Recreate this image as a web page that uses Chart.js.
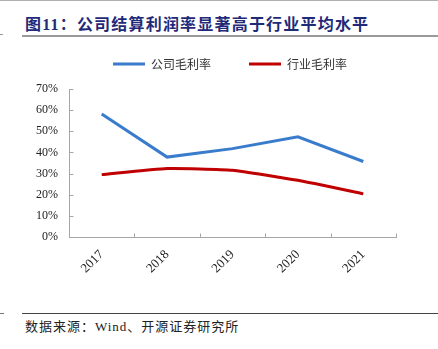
<!DOCTYPE html>
<html>
<head>
<meta charset="utf-8">
<script src="https://cdn.jsdelivr.net/npm/chart.js@4/dist/chart.umd.min.js"></script>
<style>
  html, body { margin: 0; padding: 0; background: #fff; }
  body { width: 438px; height: 349px; position: relative; overflow: hidden; }
  #topline { position: absolute; left: 0; top: 0; width: 438px; height: 1px; background: #b0b0b0; }
  #title { position: absolute; left: 25px; top: 15px; font-family: "Liberation Serif", "Noto Sans CJK SC", serif; font-weight: bold; font-size: 16px; color: #1f2a78; letter-spacing: 1.2px; white-space: nowrap; line-height: 20px; }
  #titleline { position: absolute; left: 22px; top: 35px; width: 416px; height: 2px; background: #999; }
  #mark1 { position: absolute; left: 0; top: 34px; width: 3px; height: 1px; background: #999; }
  #botline { position: absolute; left: 22px; top: 313px; width: 416px; height: 1px; background: #444; }
  #mark2 { position: absolute; left: 0; top: 313px; width: 4px; height: 1px; background: #777; }
  #source { position: absolute; left: 25px; top: 318px; font-family: "Liberation Serif", "Noto Sans CJK SC", serif; font-size: 13px; color: #222; letter-spacing: 1px; white-space: nowrap; line-height: 18px; }
  #wrap { position: absolute; left: 0; top: 20px; width: 438px; height: 280px; }
</style>
</head>
<body>
<div id="topline"></div>
<div id="title">图11：公司结算利润率显著高于行业平均水平</div>
<div id="titleline"></div>
<div id="mark1"></div>
<div id="wrap"><canvas id="c"></canvas></div>
<div id="botline"></div>
<div id="mark2"></div>
<div id="source">数据来源：Wind、开源证券研究所</div>
<script>
const categories = ["2017", "2018", "2019", "2020", "2021"];
const companyMargin = [58.2, 37.8, 41.8, 47.4, 35.7];
const industryMargin = [29.5, 32.4, 31.6, 26.8, 20.4];
const yTicks = [0, 10, 20, 30, 40, 50, 60, 70];

const AXIS = "#a6a6a6";
const innerTicks = {
  id: "innerTicks",
  afterInit(chart) {
    const lg = chart.legend;
    if (lg && !lg._patched) {
      const f = lg.fit.bind(lg);
      lg.fit = function () { f(); this.height += 9; };
      lg._patched = true;
    }
  },
  afterLayout(chart) {
    const lg = chart.legend;
    if (lg) { lg.left += 32; lg.right += 32; }
  },
  afterDraw(chart) {
    const ctx = chart.ctx;
    const x = chart.scales.x, y = chart.scales.y;
    ctx.save();
    ctx.strokeStyle = AXIS;
    ctx.lineWidth = 1;
    ctx.beginPath();
    const left = Math.round(chart.chartArea.left) + 0.5;
    const bottom = Math.round(chart.chartArea.bottom) + 0.5;
    yTicks.forEach(v => {
      const py = Math.round(y.getPixelForValue(v)) + 0.5;
      ctx.moveTo(left, py); ctx.lineTo(left + 4, py);
    });
    for (let i = 0; i <= categories.length; i++) {
      const px = Math.round(x.getPixelForValue(i - 0.5)) + 0.5;
      ctx.moveTo(px, bottom); ctx.lineTo(px, bottom - 4);
    }
    ctx.stroke();
    ctx.restore();
  }
};

new Chart(document.getElementById("c"), {
  type: "line",
  data: {
    labels: categories,
    datasets: [
      { label: "公司毛利率", data: companyMargin, borderColor: "#3a7ccc", backgroundColor: "#3a7ccc", borderWidth: 3, pointRadius: 0, tension: 0 },
      { label: "行业毛利率", data: industryMargin, borderColor: "#c00000", backgroundColor: "#c00000", borderWidth: 3, pointRadius: 0, tension: 0.15 }
    ]
  },
  options: {
    responsive: true,
    maintainAspectRatio: false,
    animation: false,
    layout: { padding: { left: 0, right: 42, top: 0, bottom: 0 } },
    plugins: {
      tooltip: { enabled: false },
      legend: {
        position: "top",
        labels: {
          boxWidth: 32, boxHeight: 3, padding: 38,
          color: "#333",
          font: { family: "'Noto Sans CJK SC', sans-serif", size: 12 },
          generateLabels(chart) {
            const items = Chart.defaults.plugins.legend.labels.generateLabels(chart);
            items.forEach(it => { it.lineWidth = 0; });
            return items;
          }
        }
      }
    },
    scales: {
      x: {
        offset: true,
        grid: { display: false, drawTicks: false },
        border: { display: true, color: AXIS },
        afterFit(s) { s.height = 63; },
        ticks: {
          minRotation: 45, maxRotation: 45, padding: 10,
          color: "#222",
          font: { family: "'Liberation Serif', serif", size: 13 }
        }
      },
      y: {
        min: 0, max: 70,
        afterFit(s) { s.width = 69; },
        afterBuildTicks(s) { s.ticks = yTicks.map(v => ({ value: v })); },
        grid: { display: false, drawTicks: false },
        border: { display: true, color: AXIS },
        ticks: {
          padding: 11,
          color: "#222",
          font: { family: "'Liberation Serif', serif", size: 12 },
          callback: v => v + "%"
        }
      }
    }
  },
  plugins: [innerTicks]
});
</script>
</body>
</html>
